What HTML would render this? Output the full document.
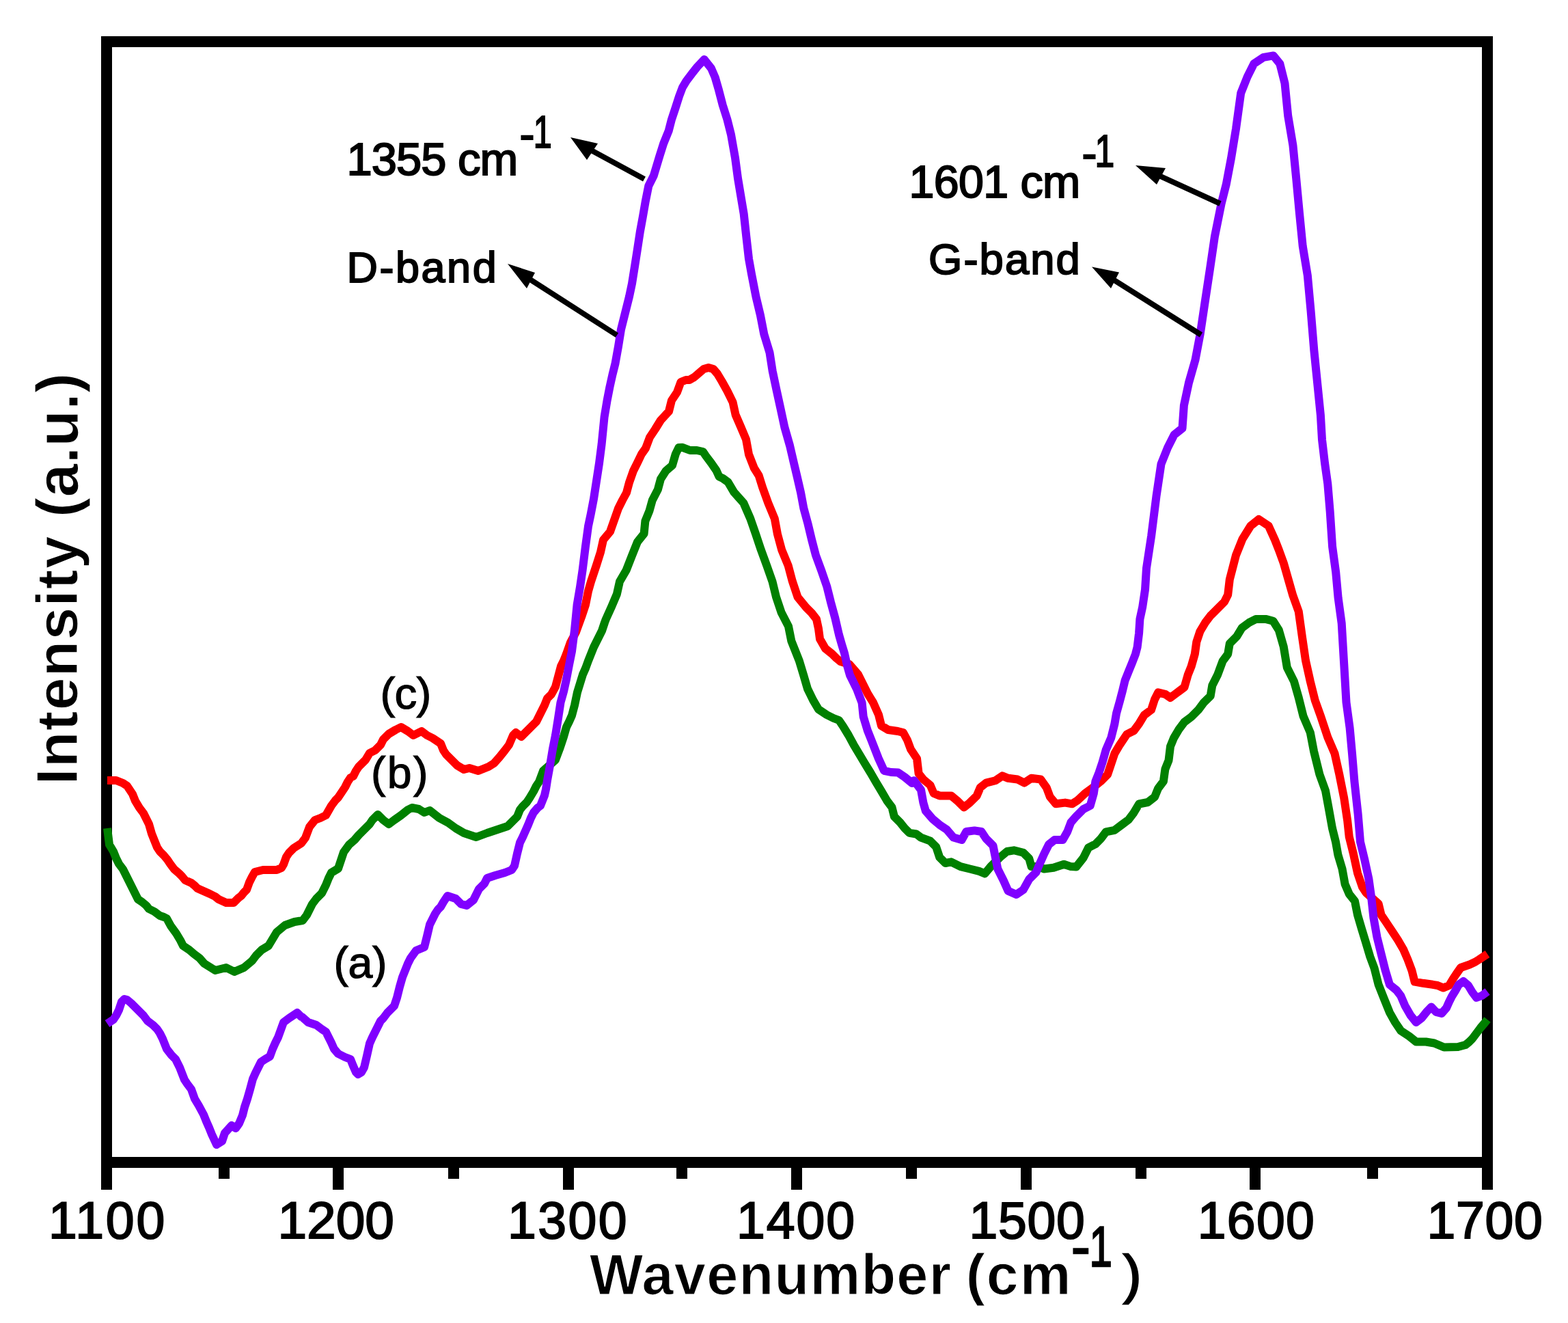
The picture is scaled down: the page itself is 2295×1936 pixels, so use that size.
<!DOCTYPE html>
<html><head><meta charset="utf-8"><title>Raman spectra</title>
<style>html,body{margin:0;padding:0;background:#fff;overflow:hidden}svg{display:block}</style>
</head><body>
<svg width="2295" height="1936" viewBox="0 0 2295 1936">
<rect width="2295" height="1936" fill="#fff"/>
<g stroke="#000" stroke-width="16" fill="none">
<rect x="156" y="61" width="2021" height="1640"/>
<line x1="156" y1="1701" x2="156" y2="1741"/><line x1="495" y1="1701" x2="495" y2="1741"/><line x1="832" y1="1701" x2="832" y2="1741"/><line x1="1166" y1="1701" x2="1166" y2="1741"/><line x1="1502" y1="1701" x2="1502" y2="1741"/><line x1="1837" y1="1701" x2="1837" y2="1741"/><line x1="2177" y1="1701" x2="2177" y2="1741"/><line x1="328" y1="1701" x2="328" y2="1725"/><line x1="664" y1="1701" x2="664" y2="1725"/><line x1="998" y1="1701" x2="998" y2="1725"/><line x1="1334" y1="1701" x2="1334" y2="1725"/><line x1="1670" y1="1701" x2="1670" y2="1725"/><line x1="2009" y1="1701" x2="2009" y2="1725"/>
</g><g fill="none" stroke-width="12" stroke-linejoin="round" stroke-linecap="butt">
<polyline stroke="#ff0000" points="157,1142 170,1142 180,1146 186,1150 190,1156 194,1162 198,1172 204,1182 210,1190 214,1198 218,1206 222,1220 226,1230 230,1240 234,1246 240,1252 245,1258 249,1264 255,1272 262,1278 266,1282 271,1288 280,1292 285,1296 289,1300 298,1304 307,1308 315,1312 320,1316 331,1321 342,1321 349,1314 353,1311 357,1306 361,1302 365,1291 369,1283 373,1276 385,1273 405,1273 412,1270 415,1265 419,1254 423,1248 430,1241 441,1234 447,1226 453,1210 461,1200 469,1197 477,1193 481,1186 485,1179 491,1171 495,1167 501,1158 505,1152 509,1144 513,1138 517,1136 521,1128 525,1122 531,1116 535,1112 541,1102 549,1098 557,1090 561,1082 569,1074 579,1068 587,1064 597,1070 605,1076 617,1070 625,1076 633,1080 645,1088 649,1098 653,1104 661,1112 669,1120 679,1126 687,1124 700,1128 715,1122 723,1117 731,1108 739,1098 745,1090 751,1076 755,1072 763,1078 773,1068 777,1064 785,1056 789,1048 793,1040 797,1032 801,1022 807,1016 813,1005 817,990 821,975 825,967 829,957 835,940 843,925 851,903 857,885 861,865 865,851 869,839 873,827 879,808 883,790 893,778 899,761 905,744 911,732 917,721 921,706 927,689 933,677 939,664.5 945,656 951,640 959,628 967,615 979,602 983,586 991,574 996.5,559 1004,556 1009,556 1016,552 1023,546 1030,540 1037,538 1044,540 1050,547 1056.6,558 1064.4,572 1072.6,588.7 1076.6,607 1084.4,625 1092,643 1096,665 1103.8,685 1110.7,696 1116,713 1124.3,736 1133.8,759 1138,781.8 1144.2,804.8 1153.7,827.8 1159.8,850.7 1167.5,873.7 1180,889 1188,897 1195,906 1198,920 1200,935 1208,949 1218,957 1224,963 1230,968 1243,972 1250,980 1256,987 1264,1003 1270,1015 1278,1028 1286,1046 1290,1062 1300,1068 1314,1070 1322,1072 1328,1083 1333,1096.5 1342,1110 1344.6,1132 1351.4,1140.5 1361.6,1149 1366.7,1161 1375.2,1164.4 1392.2,1164.4 1402.4,1172.9 1411,1181.4 1419.5,1174.6 1429.7,1164.4 1434.8,1152.4 1443.3,1145.6 1456.9,1142.2 1467,1135.4 1475.6,1138.8 1489.2,1140.5 1499.4,1145.6 1509.6,1138.8 1523.2,1140.5 1531.7,1152.4 1536.8,1166 1545.3,1176.3 1559,1174.6 1569.1,1176.3 1577,1171.4 1588,1161.2 1598.3,1153.6 1611,1143.4 1621.2,1133.2 1626.3,1117.9 1631.4,1102.6 1639,1089.8 1649.3,1074.5 1659.5,1069.4 1667.1,1059.2 1674.8,1046.4 1685,1038.8 1690,1023.5 1695.2,1013.3 1705.4,1015.8 1713,1021 1723.3,1013.3 1733.5,1005.6 1738.6,987.8 1743.7,975 1748.8,957.1 1751.3,939.3 1756.4,924 1764,911.2 1771.7,901 1782,890.8 1792.1,880.6 1797.2,870.4 1799.8,848 1809,812.4 1818.6,788.6 1830.5,769.5 1842.4,760 1856.7,769.5 1866,790 1871.9,805 1878.7,823.7 1885.5,847.5 1892.3,871.3 1900.8,895.1 1906,932.5 1911,966.5 1917.8,997.1 1924.6,1024.4 1933.1,1048.2 1943.3,1078.8 1953.5,1102.6 1960.3,1133.2 1967.1,1167.2 1972.2,1201.2 1974.7,1224.5 1980.8,1249 1987,1277.6 1994,1298 1999.2,1306 2008,1314 2017.6,1322.4 2021.6,1338.8 2029.8,1351 2038,1363.3 2046,1375.5 2054.3,1389.8 2060.4,1404 2066.5,1420.4 2070.6,1436.7 2082.9,1438.8 2097,1440.8 2104,1442 2112.7,1445.6 2121,1442 2127,1432 2131,1426 2138,1416 2151,1411.5 2159,1407.8 2165,1404 2171,1400 2177,1396"/>
<polyline stroke="#008000" points="157,1212 160,1236 166,1246 170,1256 174,1264 180,1272 186,1284 190,1292 194,1300 198,1308 202,1316 208,1320 214,1325 218,1330 226,1334 234,1340 240,1342 244,1344 250,1355 258,1366 264,1376 268,1384 277,1390 284,1396 292,1402 299,1410 315,1420 331,1416 343,1422 357,1416 369,1406 375,1398 383,1390 393,1384 399,1374 405,1364 417,1354 431,1349 443,1347 449,1339 453,1331 457,1323 463,1315 471,1307 477,1295 481,1285 485,1277 495,1271 499,1259 503,1247 511,1236 519,1229 525,1222 531,1216 535,1212 541,1206 545,1200 553,1192 561,1200 569,1206 577,1200 587,1193 597,1185 603,1182 613,1184 621,1189 629,1186 643,1197 656,1204 667,1212 679,1219 697,1225 713,1219 725,1215 743,1209 757,1195 761,1185 765,1180 771,1174 775,1168 781,1158 785,1150 789,1144 795,1128 804,1120 813,1112 819,1096 825,1078 829,1064 833,1056 837,1047 841,1032 845,1013 849,1000 853,987 857,978 861,967 865,957 869,947 873,939 877,931 881,923 885,911 886.7,906.4 895,888 902.8,869.7 907,851 916.6,834.5 925,813 933,793 942.6,781 944.4,762.5 950.5,747.5 954.8,732 962.8,716.6 967,701 974.7,689 984,681 988.8,664.5 993.4,655 999,654.8 1010,659 1020,659 1029,661 1033,667 1041,677.6 1048.5,688.5 1052.6,697.6 1058,700 1065.4,705.3 1074.5,720.6 1088.3,736 1098.3,759 1106.2,781.8 1113.9,804.8 1122.3,827.8 1130.4,850.7 1136,873.7 1143.7,896.6 1154,916.5 1158.3,938 1169.8,967 1176,987.6 1182,1008 1190,1024.4 1198,1038 1210,1046 1220,1051 1228,1054 1233.7,1062.4 1242,1076 1249.4,1089.7 1257.5,1103.3 1265.7,1117 1274,1130.5 1281.8,1144 1290,1157.7 1298,1171.3 1305.5,1181.4 1308.9,1195 1317.4,1203.5 1324.2,1212 1331,1218.8 1341.2,1220.5 1348,1225.6 1361.6,1230.7 1370.1,1239.2 1375.2,1254.5 1383.7,1263 1392.2,1261.3 1405.9,1268.1 1419.5,1271.5 1433,1274.9 1441.6,1278.3 1450,1268.1 1463.7,1254.5 1473.9,1246 1484,1244.3 1497.7,1247.7 1506.2,1256.2 1509.6,1268.1 1518.1,1268.1 1528.3,1271.5 1542,1269.8 1557.2,1264.7 1567.4,1268.1 1575.3,1268.4 1585.5,1255.6 1593.2,1240.3 1603.4,1235.2 1611,1227.6 1618.7,1217.3 1631.4,1214.8 1641.6,1207.1 1651.8,1199.5 1659.5,1189.3 1667.1,1176.5 1680,1174 1690,1166.3 1695.2,1153.6 1702.9,1143.4 1705.4,1125.5 1710.5,1112.8 1713,1092.3 1718.2,1079.6 1725.8,1066.8 1733.5,1056.6 1743.7,1049 1753.9,1038.8 1761.5,1028.6 1771.7,1018.4 1774.3,1003 1782,987.8 1789.6,967.3 1797.2,957.1 1799.8,941.8 1810,931.6 1817.7,918.9 1828,911.2 1838,906.1 1853.4,906.1 1863.4,908.7 1871.9,922.3 1878.7,946.1 1883.8,976.7 1894,997.1 1900.8,1021 1907.6,1048.2 1917.8,1072 1923,1099.2 1931.4,1133.2 1940,1157 1945,1184.2 1950,1212 1955,1232 1958.4,1251 1964.5,1271.4 1968.6,1293.9 1974.7,1308.2 1982.9,1318.4 1987,1338.8 1993,1359.2 1999.2,1379.6 2005.3,1400 2011.4,1416.3 2017.6,1440.8 2025.7,1461.2 2033.9,1481.6 2042,1496 2050.2,1508.2 2062.4,1516.3 2072.7,1524.5 2087,1524.5 2099.2,1526.5 2113.5,1532.5 2133.9,1532 2145,1529 2150,1525 2155,1520 2161,1512 2167,1504 2173,1497 2177,1492"/>
<polyline stroke="#8000ff" points="157,1498 166,1492 170,1486 174,1478 178,1466 182,1462 186,1463 192,1468 198,1474 204,1480 210,1486 216,1494 224,1500 230,1506 234,1512 238,1520 244,1535 251,1544 257,1550 263,1562 270,1580 274,1586 280,1594 285,1608 291,1618 298,1631 302,1641 306,1650 310,1660 317,1675 325,1670 329,1658 339,1647 345,1651 350,1644 355,1632 358,1620 362,1608 366,1594 370,1579 374,1570 378,1562 382,1554 388,1550 395,1546 399,1535 403,1526 407,1518 411,1507 415,1496 423,1490 435,1482 441,1488 442,1488 451,1496 463,1500 471,1506 477,1510 481,1518 485,1526 489,1535 495,1542 505,1547 513,1550 517,1560 521,1569 524,1572 529,1569 533,1562 537,1545 541,1527 545,1518 549,1510 553,1502 557,1494 561,1490 567,1482 571,1478 577,1472 581,1460 585,1444 589,1430 593,1420 597,1410 601,1402 609,1391 621,1386 625,1370 629,1353 633,1345 637,1337 641,1331 645,1327 649,1320 655,1311 667,1315 675,1323 683,1325 693,1317 697,1309 701,1301 709,1293 713,1285 725,1281 739,1277 749,1273 753,1267 757,1249 761,1233 765,1225 769,1216 773,1207 777,1197 781,1189 787,1182 791,1179 797,1164 799,1155 801,1142 805,1120 809,1096 813,1076 817,1051 820.5,1028 825,1012 829,994 833,973 837,953 841,922 844.6,885 849,859 852.6,834.5 856.8,800.8 861,770 864.8,752 869,730 873,704 877,678 880.6,650 884.6,610 888.6,586 892.5,566 896.5,548 900.5,532 905,507 909,482 913,466 917,450 921,434 925,415 929,390 932.8,365.6 936.8,339.4 940.9,317 944.8,294.5 949.3,272 956.8,257 965.2,229 971.2,210 978.7,191.6 983,174.8 988.6,158 994,141 998.9,128 1004.5,118.6 1013,107.4 1020.4,98 1030.7,87 1041,100 1046.6,113 1052,131.7 1057.8,154 1064.4,174.8 1070,197 1076,231 1080,261 1084,285 1088.7,313 1092.4,347 1096,378.7 1100,401 1106.5,434.4 1113,461.7 1118.3,489 1126.5,516 1130.7,543 1136.5,570.6 1142.5,598 1148.3,625 1156,652 1162.4,679.5 1166.7,697.7 1172,720.6 1176.3,743.6 1182.5,766.5 1188,789.5 1194,812.5 1202.4,835.4 1210.3,858.4 1216,881.3 1222.3,904.3 1228,929 1232,943 1236,956 1240,974 1244,988 1253.9,1008 1261.6,1028.4 1263.7,1048.8 1269.8,1069 1278,1089.7 1285.9,1110 1294,1127.8 1304,1130 1314.4,1130.5 1324,1137 1335,1146 1337.8,1142.2 1348,1155.9 1351.4,1174.6 1354.8,1186.5 1365,1198.4 1375.2,1206.9 1385.4,1213.7 1395.6,1225.6 1407.6,1229 1414.3,1217 1426.3,1215.4 1436.5,1217 1443.3,1227.3 1453.5,1237.5 1456.9,1254.5 1460.3,1271.5 1468.8,1288.5 1475.6,1303.8 1487.5,1309 1497.7,1302.1 1506.2,1286.8 1516.4,1276.6 1521.5,1264.7 1528.3,1249.4 1535.1,1235.8 1543.6,1229 1555.5,1229 1562.3,1217 1567.4,1203.5 1575.3,1194.4 1585.5,1184.2 1595.7,1179 1600.8,1161.2 1603.4,1143.4 1608.5,1130.6 1613.6,1115.3 1618.7,1097.4 1626.3,1079.6 1631.4,1059.2 1634,1043.9 1639,1026 1643,1010.7 1646.7,995.4 1651.8,982.7 1657,969.9 1662,957.1 1664.6,947 1667.1,926.5 1668.4,906.1 1672.2,888.3 1676,862.8 1678,831.4 1685.2,783.8 1692.4,726.7 1699.5,679 1709,655.2 1718.6,636.2 1730.5,626.7 1732.9,593.3 1740,560 1749.5,526.7 1756.7,488.6 1763.8,441 1771,393.3 1778,345.7 1787.6,298 1794.8,269.5 1802,231.4 1809,188.6 1816.2,136.2 1825.7,112.4 1835.2,93.3 1849.5,83.8 1863.8,81.4 1873.3,93.3 1880.5,121.9 1885.2,169.5 1892.4,212.4 1897.1,260 1902,312.4 1906.7,360 1913.8,402.9 1918.6,455.2 1923.3,512.4 1928.1,560 1932.9,607.6 1935,643.4 1939,677.4 1943.3,708 1946.7,748.8 1950.1,799.9 1955.2,837.3 1958.6,874.7 1963.7,912.1 1967.1,969.9 1970.5,1027.8 1975.6,1065.2 1979,1102.6 1982.4,1143.4 1987.6,1191 1991,1231.8 1997.1,1257.1 2003.3,1285.7 2007.3,1314.3 2010.4,1342.9 2015.5,1371.4 2021.6,1396 2027.8,1420.4 2033.9,1440.8 2044,1449 2050.2,1457.1 2056.3,1471.4 2064.5,1485.7 2072.7,1496 2080.8,1489.8 2089,1479.6 2095,1473.5 2102,1481 2110,1483 2117,1475 2121,1466 2125,1458 2130,1450 2135,1441 2142,1436 2149,1442 2155,1452 2161,1460 2169,1457 2177,1451"/>
</g><line x1="856.3" y1="215.0" x2="943" y2="262" stroke="#000" stroke-width="8"/><polygon fill="#000" points="835,201 875,210 859,234"/><line x1="765.7" y1="402.3" x2="903" y2="490.5" stroke="#000" stroke-width="8"/><polygon fill="#000" points="743,386 783,399 771,422"/><line x1="1687.0" y1="252.7" x2="1786" y2="298" stroke="#000" stroke-width="8"/><polygon fill="#000" points="1662,242 1706,246 1693,270"/><line x1="1620.7" y1="403.7" x2="1758" y2="490" stroke="#000" stroke-width="8"/><polygon fill="#000" points="1598,390.5 1638,398.5 1626,422"/><g font-family="Liberation Sans, Arial, sans-serif" fill="#000" stroke="#000"><text x="71" y="1811.9" font-size="75.18" stroke-width="2" textLength="170.4" lengthAdjust="spacing">1100</text>
<text x="406.6" y="1811.9" font-size="76.68" stroke-width="2" textLength="170.2" lengthAdjust="spacing">1200</text>
<text x="743.1" y="1811.9" font-size="75.18" stroke-width="2" textLength="174.4" lengthAdjust="spacing">1300</text>
<text x="1078" y="1811.9" font-size="75.18" stroke-width="2" textLength="173" lengthAdjust="spacing">1400</text>
<text x="1418.5" y="1811.9" font-size="75.18" stroke-width="2" textLength="169.2" lengthAdjust="spacing">1500</text>
<text x="1752.8" y="1811.9" font-size="75.18" stroke-width="2" textLength="171" lengthAdjust="spacing">1600</text>
<text x="2088.5" y="1811.9" font-size="75.18" stroke-width="2" textLength="169.2" lengthAdjust="spacing">1700</text>
<text x="863" y="1893.7" font-size="82.89" font-weight="bold" stroke="#fff" stroke-width="1.2" textLength="529" lengthAdjust="spacing">Wavenumber</text>
<text x="1413.7" y="1894.4" font-size="84.03" font-weight="bold" stroke="#fff" stroke-width="1.2" textLength="153.8" lengthAdjust="spacing">(cm</text>
<text x="1568" y="1853.4" font-size="83.14" stroke-width="2.5">-</text>
<text x="1594.4" y="1852.7" font-size="83" stroke-width="2.5" textLength="33.4" lengthAdjust="spacingAndGlyphs">1</text>
<text x="1644.3" y="1892.4" font-size="78.36" stroke-width="2.5">)</text>
<text transform="translate(113.1,1148.2) rotate(-90)" font-size="85.8" font-weight="bold" stroke="#fff" stroke-width="1.2" textLength="363.6" lengthAdjust="spacing">Intensity</text>
<text transform="translate(114.3,757) rotate(-90)" font-size="87.54" font-weight="bold" stroke="#fff" stroke-width="1.2" textLength="211.2" lengthAdjust="spacing">(a.u.)</text>
<text x="507.5" y="256.1" font-size="66.86" stroke-width="2" textLength="250.8" lengthAdjust="spacing">1355 cm</text>
<text x="760.5" y="218.5" font-size="66" stroke-width="2">-</text>
<text x="780.7" y="216.4" font-size="66.86" stroke-width="2" textLength="27" lengthAdjust="spacingAndGlyphs">1</text>
<text x="507.4" y="413.1" font-size="62.88" stroke-width="2" textLength="219.2" lengthAdjust="spacing">D-band</text>
<text x="1330.4" y="288.9" font-size="66.29" stroke-width="2" textLength="250.8" lengthAdjust="spacing">1601 cm</text>
<text x="1583.4" y="246.5" font-size="66" stroke-width="2">-</text>
<text x="1602.6" y="244.3" font-size="67.16" stroke-width="2" textLength="28.8" lengthAdjust="spacingAndGlyphs">1</text>
<text x="1359" y="401.1" font-size="63.42" stroke-width="2" textLength="221.8" lengthAdjust="spacing">G-band</text>
<text x="556.5" y="1036.9" font-size="65.5" stroke-width="1.2" textLength="74.8" lengthAdjust="spacing">(c)</text>
<text x="542.9" y="1153" font-size="64.4" stroke-width="1.2" textLength="83.6" lengthAdjust="spacing">(b)</text>
<text x="488.5" y="1431.3" font-size="64.4" stroke-width="1.2" textLength="78" lengthAdjust="spacing">(a)</text></g>
</svg>
</body></html>
